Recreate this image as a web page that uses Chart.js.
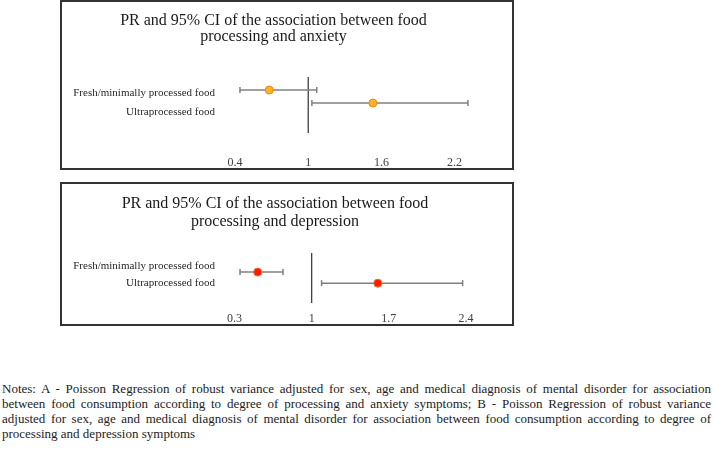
<!DOCTYPE html>
<html>
<head>
<meta charset="utf-8">
<script src="https://cdn.jsdelivr.net/npm/chart.js@4/dist/chart.umd.min.js"></script>
<style>
  html, body { margin: 0; padding: 0; background: #fff; }
  body { width: 713px; height: 456px; position: relative; overflow: hidden;
         font-family: "Liberation Serif", "Times New Roman", serif; }
  .panel { position: absolute; left: 60px; width: 454px; box-sizing: border-box;
           border: 2px solid #333; background: #fff; }
  .panel canvas { display: block; }
  #notes { position: absolute; left: 2px; top: 381px; width: 709px;
           font-size: 13px; line-height: 15px; color: #222; }
  #notes div { white-space: nowrap; text-align: justify; text-align-last: justify; }
  #notes div.last { text-align-last: left; }
</style>
</head>
<body>
<div class="panel" style="top:0; height:170px;"><canvas id="anx" width="450" height="166"></canvas></div>
<div class="panel" style="top:182px; height:144px;"><canvas id="dep" width="450" height="140"></canvas></div>
<div id="notes">
  <div>Notes: A - Poisson Regression of robust variance adjusted for sex, age and medical diagnosis of mental disorder for association</div>
  <div>between food consumption according to degree of processing and anxiety symptoms; B - Poisson Regression of robust variance</div>
  <div>adjusted for sex, age and medical diagnosis of mental disorder for association between food consumption according to degree of</div>
  <div class="last">processing and depression symptoms</div>
</div>

<script>
// forest plots: prevalence ratio + 95% CI, one row per food group

const ROWS = ['Fresh/minimally processed food', 'Ultraprocessed food'];
const ROW_POS = [1, 2];

// A - anxiety
const ANX_PR = [0.68, 1.53];
const ANX_LO = [0.44, 1.03];
const ANX_HI = [1.07, 2.31];
const ANX_TICKS = [0.4, 1, 1.6, 2.2];

// B - depression
const DEP_PR = [0.51, 1.60];
const DEP_LO = [0.35, 1.09];
const DEP_HI = [0.74, 2.37];
const DEP_TICKS = [0.3, 1, 1.7, 2.4];

Chart.defaults.font.family = '"Liberation Serif", "Times New Roman", serif';
Chart.defaults.color = '#262626';

function makePanel(id, o) {
  const datasets = [{
    label: 'PR',
    data: o.pr.map((v, i) => ({ x: v, y: ROW_POS[i] })),
    pointRadius: 4,
    pointBackgroundColor: o.fill,
    pointBorderColor: o.edge,
    pointBorderWidth: 1,
    order: 0
  }];
  // CI whiskers with end caps
  o.lo.forEach((lo, i) => datasets.push({
    type: 'line',
    data: [{ x: lo, y: ROW_POS[i] }, { x: o.hi[i], y: ROW_POS[i] }],
    borderColor: '#808080',
    borderWidth: 1.5,
    pointStyle: 'line',
    rotation: 90,
    pointRadius: 3,
    pointBorderColor: '#808080',
    pointBorderWidth: 1.5,
    order: 1
  }));
  // reference line at PR = 1
  datasets.push({
    type: 'line',
    data: [{ x: 1, y: o.yMin }, { x: 1, y: o.yMax }],
    borderColor: '#404040',
    borderWidth: 1.3,
    pointRadius: 0,
    order: 2
  });

  return new Chart(document.getElementById(id), {
    type: 'scatter',
    data: { datasets },
    options: {
      responsive: false,
      animation: false,
      layout: { padding: { left: 0, right: o.padRight, top: 0, bottom: 0 } },
      plugins: {
        legend: { display: false },
        tooltip: { enabled: false },
        title: {
          display: true,
          text: o.title,
          color: '#1a1a1a',
          font: { size: 16, weight: 'normal', lineHeight: o.titleLH },
          padding: o.titlePad
        }
      },
      scales: {
        x: {
          type: 'linear',
          min: o.xMin, max: o.xMax,
          grid: { display: false },
          border: { display: false },
          afterBuildTicks: s => { s.ticks = o.ticks.map(v => ({ value: v })); },
          afterFit: s => { s.height = o.xH; },
          ticks: { padding: o.xPad, color: '#404040', font: { size: 12 },
                   autoSkip: false, maxRotation: 0, callback: v => String(v) }
        },
        y: {
          type: 'linear',
          reverse: true,
          min: o.yMin, max: o.yMax,
          grid: { display: false },
          border: { display: false },
          afterBuildTicks: s => { s.ticks = o.labelPos.map(v => ({ value: v })); },
          afterFit: s => { s.width = 167; },
          ticks: { padding: 6, color: '#262626', font: { size: 11 },
                   autoSkip: false, callback: (v, i) => ROWS[i] }
        }
      }
    }
  });
}

makePanel('anx', {
  title: ['PR and 95% CI of the association between food', 'processing and anxiety'],
  pr: ANX_PR, lo: ANX_LO, hi: ANX_HI, ticks: ANX_TICKS,
  fill: '#FFB320', edge: '#F0821E',
  xMin: 0.35, xMax: 2.45, padRight: 27,
  yMin: 0, yMax: 4.3, labelPos: [1.23, 2.7],
  titleLH: 1, titlePad: { top: 11, bottom: 32 },
  xH: 35, xPad: 15
});

makePanel('dep', {
  title: ['PR and 95% CI of the association between food', 'processing and depression'],
  pr: DEP_PR, lo: DEP_LO, hi: DEP_HI, ticks: DEP_TICKS,
  fill: '#FF1A00', edge: '#FF6A1A',
  xMin: 0.25, xMax: 2.6, padRight: 24,
  yMin: -0.73, yMax: 3.8, labelPos: [0.45, 2.0],
  titleLH: 1.125, titlePad: { top: 11, bottom: 22 },
  xH: 21, xPad: 1
});
</script>
</body>
</html>
